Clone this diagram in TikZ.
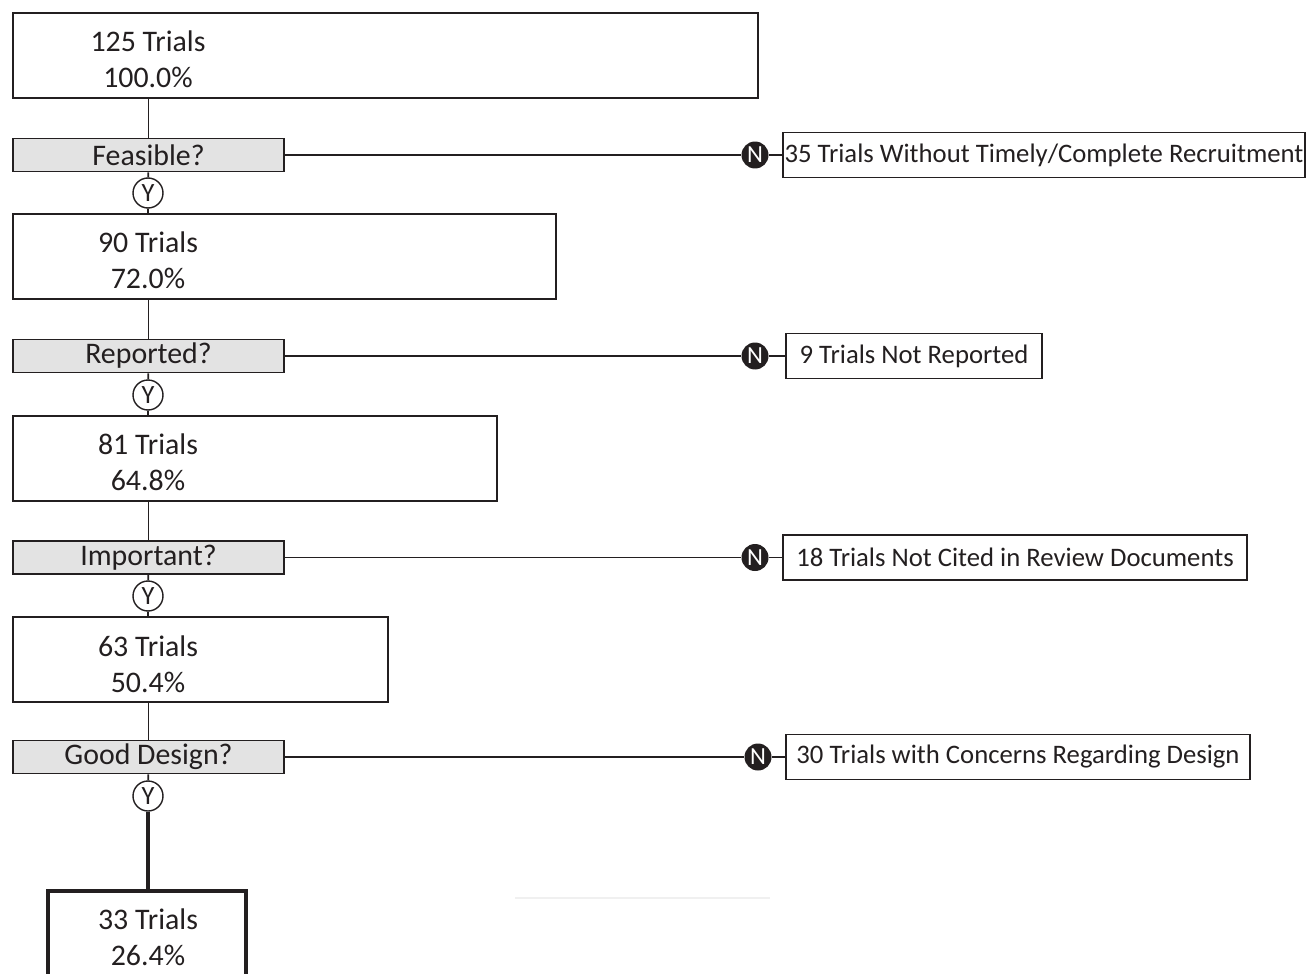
\documentclass[tikz,border=0pt]{standalone}
\usepackage{fontspec}
\setmainfont{Carlito}
\definecolor{ink}{RGB}{35,31,32}
\begin{document}
\begin{tikzpicture}[x=0.02cm,y=-0.02cm,color=ink,line width=1pt,
  every node/.style={font=\fontsize{17}{20.5}\selectfont},
  tbox/.style={draw,inner sep=0pt,minimum height=1.7cm},
  qbox/.style={draw,fill=black!11,inner sep=0pt,minimum width=5.42cm,minimum height=0.66cm},
  ycirc/.style={draw,circle,fill=white,inner sep=0pt,minimum size=0.6cm,line width=0.8pt,font=\fontsize{15}{15}\selectfont},
  ncirc/.style={circle,fill=ink,text=white,inner sep=0pt,minimum size=0.54cm,font=\fontsize{14}{14}\selectfont},
  nbox/.style={draw,inner sep=0pt,minimum height=0.9cm,font=\fontsize{15.2}{18}\selectfont}]
  \useasboundingbox (0,0) rectangle (1307,973);

  \node (t0) at (385.5,55.5) [tbox,minimum width=14.9cm] {};
  \node (t1) at (284.5,256.5) [tbox,minimum width=10.86cm] {};
  \node (t2) at (255,458.5) [tbox,minimum width=9.68cm] {};
  \node (t3) at (200.5,659.5) [tbox,minimum width=7.5cm] {};
  \node (t4) at (147,941) [draw,line width=2.4pt,inner sep=0pt,minimum width=3.96cm,minimum height=2cm] {};

  \node (l0) at (148,59) [align=center] {125 Trials\\100.0\%};
  \node (l1) at (148,260) [align=center] {90 Trials\\72.0\%};
  \node (l2) at (148,462) [align=center] {81 Trials\\64.8\%};
  \node (l3) at (148,664) [align=center] {63 Trials\\50.4\%};
  \node (l4) at (148,937) [align=center] {33 Trials\\26.4\%};

  \node (q1) at (148.5,155) [qbox] {Feasible?};
  \node (q2) at (148.5,356) [qbox] {Reported?};
  \node (q3) at (148.5,557.5) [qbox] {Important?};
  \node (q4) at (148.5,757) [qbox] {Good Design?};

  \node (y1) at (148,193) [ycirc] {Y};
  \node (y2) at (148,395) [ycirc] {Y};
  \node (y3) at (148,596) [ycirc] {Y};
  \node (y4) at (148,796) [ycirc] {Y};

  \node (n1) at (755,155) [ncirc] {N};
  \node (n2) at (755,356) [ncirc] {N};
  \node (n3) at (755,557.5) [ncirc] {N};
  \node (n4) at (758,757) [ncirc] {N};

  \node (m1) at (1044,155) [nbox,minimum width=10.44cm] {35 Trials Without Timely/Complete Recruitment};
  \node (m2) at (914,356) [nbox,minimum width=5.12cm] {9 Trials Not Reported};
  \node (m3) at (1015,557.5) [nbox,minimum width=9.28cm] {18 Trials Not Cited in Review Documents};
  \node (m4) at (1018,757) [nbox,minimum width=9.28cm] {30 Trials with Concerns Regarding Design};

  \draw (q1 |- t0.south) to (q1);
  \draw (q1) to (y1) to (y1 |- t1.north);
  \draw (q2 |- t1.south) to (q2);
  \draw (q2) to (y2) to (y2 |- t2.north);
  \draw (q3 |- t2.south) to (q3);
  \draw (q3) to (y3) to (y3 |- t3.north);
  \draw (q4 |- t3.south) to (q4);
  \draw (q4) to (y4);
  \draw[line width=1.8pt] (y4) to (y4 |- t4.north);

  \draw (q1) to (n1) to (m1);
  \draw (q2) to (n2) to (m2);
  \draw (q3) to (n3) to (m3);
  \draw (q4) to (n4) to (m4);

  \draw[black!6,line width=0.6pt] (515,898) -- (770,898);
\end{tikzpicture}
\end{document}
